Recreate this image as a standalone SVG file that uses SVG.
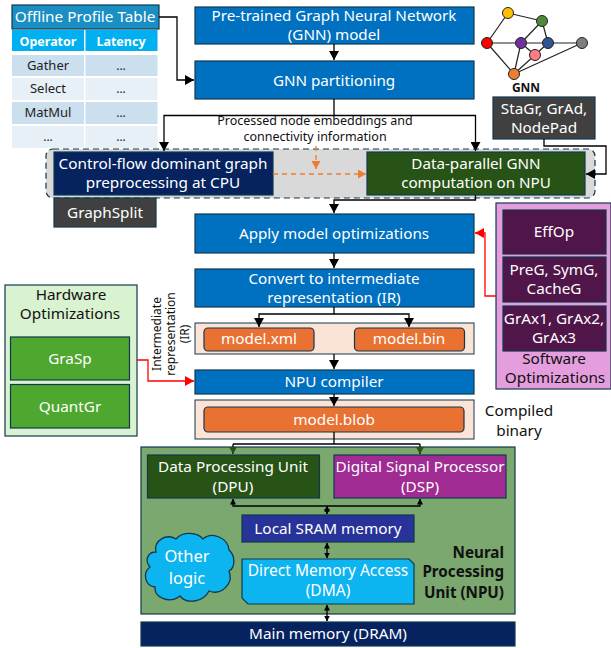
<svg xmlns="http://www.w3.org/2000/svg" width="611" height="648" viewBox="0 0 611 648">
<style>
text{font-family:"Noto Sans","Open Sans",sans-serif;text-anchor:middle}
.w{fill:#fff}.t15{font-size:15.2px}.t14{font-size:15.3px}
.k{fill:#111}
.bx{stroke:#12384f;stroke-width:1.2}
.blue{fill:#0070c0}
.org{fill:#e97132;stroke:#12384f;stroke-width:1.2}
.pch{fill:#fbe3d6;stroke:#12384f;stroke-width:1}
.pur{fill:#501549;stroke:#12384f;stroke-width:1.2}
.grn{fill:#4ea72e;stroke:#12384f;stroke-width:1.2}
.dk{fill:#404040;stroke:#12384f;stroke-width:1.2}
.c{fill:none;stroke:#000;stroke-width:1.3}
.r{fill:none;stroke:#f00;stroke-width:1.3}
.o{fill:none;stroke:#ed7d31;stroke-width:1.3;stroke-dasharray:5 4}
.e{stroke:#222;stroke-width:1.2}
.n{stroke:#222;stroke-width:1}
.end{text-anchor:end}
</style>
<defs>
<marker id="a" markerWidth="10" markerHeight="10" refX="9" refY="5" orient="auto" markerUnits="userSpaceOnUse"><path d="M0,0L9,5L0,10z" fill="#000"/></marker>
<marker id="s" markerWidth="6" markerHeight="6" refX="5.5" refY="3" orient="auto-start-reverse" markerUnits="userSpaceOnUse"><path d="M0,0L6,3L0,6z" fill="#000"/></marker>
<marker id="ar" markerWidth="10" markerHeight="10" refX="9" refY="5" orient="auto" markerUnits="userSpaceOnUse"><path d="M0,0L9,5L0,10z" fill="#f00"/></marker>
<marker id="ao" markerWidth="9" markerHeight="9" refX="8" refY="4.5" orient="auto" markerUnits="userSpaceOnUse"><path d="M0,0L8,4.5L0,9z" fill="#ed7d31"/></marker>
<marker id="ag" markerWidth="8" markerHeight="8" refX="7" refY="4" orient="auto" markerUnits="userSpaceOnUse"><path d="M0,0L7,4L0,8z" fill="#275317"/></marker>
</defs>

<g id="split-container"><rect x="46" y="149" width="549" height="49" rx="7" fill="#d9d9d9" stroke="#12384f" stroke-width="1.2" stroke-dasharray="6 4"/></g>

<g id="offline-table">
<rect x="12" y="5" width="147" height="24" fill="#1a8fc4" stroke="#12384f" stroke-width="1.2"/>
<text class="w" x="85" y="22" font-size="15.300">Offline Profile Table</text>
<rect x="12" y="30" width="72" height="21" fill="#00b0f0"/><rect x="85.500" y="30" width="72" height="21" fill="#00b0f0"/>
<text class="w" x="48" y="46" font-size="12.500" font-weight="700">Operator</text><text class="w" x="121" y="46" font-size="12.500" font-weight="700">Latency</text>
<rect x="12" y="55" width="72" height="21" fill="#ccdfee"/><rect x="85.500" y="55" width="72" height="21" fill="#ccdfee"/>
<rect x="12" y="78" width="72" height="22" fill="#e7eff7"/><rect x="85.500" y="78" width="72" height="22" fill="#e7eff7"/>
<rect x="12" y="102" width="72" height="22" fill="#ccdfee"/><rect x="85.500" y="102" width="72" height="22" fill="#ccdfee"/>
<rect x="12" y="126" width="72" height="22" fill="#e7eff7"/><rect x="85.500" y="126" width="72" height="22" fill="#e7eff7"/>
<g fill="#222" font-size="12">
<text x="48" y="70" font-size="13">Gather</text><text x="121" y="70">...</text>
<text x="48" y="93" font-size="13">Select</text><text x="121" y="93">...</text>
<text x="48" y="117" font-size="13">MatMul</text><text x="121" y="117">...</text>
<text x="48" y="141">...</text><text x="121" y="141">...</text>
</g>
</g>

<g id="pretrained"><rect class="bx blue" x="195" y="7" width="279" height="37"/><text class="w t15" x="334" y="21">Pre-trained Graph Neural Network</text><text class="w t15" x="334" y="40">(GNN) model</text></g>
<g id="partitioning"><rect class="bx blue" x="195" y="61" width="279" height="38"/><text class="w t15" x="334" y="86">GNN partitioning</text></g>
<g id="control-flow"><rect x="54" y="152" width="219" height="43" fill="#06235f" stroke="#12384f" stroke-width="1.2"/><text class="w t14" x="163" y="169">Control-flow dominant graph</text><text class="w t14" x="163" y="188">preprocessing at CPU</text></g>
<g id="data-parallel"><rect x="367" y="152" width="218" height="43" fill="#275317" stroke="#12384f" stroke-width="1.2"/><text class="w t15" x="476" y="169">Data-parallel GNN</text><text class="w t15" x="476" y="188">computation on NPU</text></g>
<g id="graphsplit"><rect class="dk" x="54" y="198" width="102" height="29"/><text class="w t14" x="105" y="218">GraphSplit</text></g>
<g id="stagr"><rect class="dk" x="493" y="97" width="102" height="42"/><text class="w t14" x="544" y="114">StaGr, GrAd,</text><text class="w t14" x="544" y="133">NodePad</text></g>

<g id="gnn-graph">
<g class="e">
<line x1="508" y1="13" x2="542" y2="21"/><line x1="508" y1="13" x2="487" y2="43"/><line x1="487" y1="43" x2="582" y2="43"/><line x1="542" y1="21" x2="521" y2="43"/><line x1="542" y1="21" x2="548" y2="43"/><line x1="487" y1="43" x2="514" y2="74"/><line x1="521" y1="43" x2="514" y2="74"/><line x1="521" y1="43" x2="535" y2="55"/><line x1="548" y1="43" x2="535" y2="55"/><line x1="535" y1="55" x2="514" y2="74"/><line x1="582" y1="43" x2="514" y2="74"/>
</g>
<g class="n">
<circle cx="508" cy="13" r="5.500" fill="#ffc000"/><circle cx="542" cy="21" r="5.500" fill="#4e8a35"/><circle cx="487" cy="43" r="5.500" fill="#f00"/><circle cx="521" cy="43" r="5.500" fill="#7030a0"/><circle cx="548" cy="43" r="5.500" fill="#2f5597"/><circle cx="582" cy="43" r="5.500" fill="#7f7f7f"/><circle cx="535" cy="55" r="5.500" fill="#ff7c80"/><circle cx="514" cy="74" r="5.500" fill="#ed7d31"/>
</g>
<text x="526" y="92" font-size="12" font-weight="700" fill="#111">GNN</text>
</g>

<g id="apply"><rect class="bx blue" x="195" y="214" width="279" height="39"/><text class="w t15" x="334" y="239">Apply model optimizations</text></g>
<g id="convert"><rect class="bx blue" x="195" y="269" width="279" height="38"/><text class="w t15" x="334" y="284">Convert to intermediate</text><text class="w t15" x="334" y="303">representation (IR)</text></g>
<g id="model-files"><rect class="pch" x="195" y="323" width="279" height="31"/>
<rect class="org" x="204" y="328" width="110" height="23" rx="4"/><text class="w t14" x="259" y="344">model.xml</text>
<rect class="org" x="354.500" y="328" width="110" height="23" rx="4"/><text class="w t14" x="409" y="344">model.bin</text></g>
<g id="npu-compiler"><rect class="bx blue" x="195" y="370" width="279" height="24"/><text class="w t14" x="334" y="387">NPU compiler</text></g>
<g id="model-blob"><rect class="pch" x="195" y="400" width="279" height="39"/><rect class="org" x="204" y="407" width="260" height="25" rx="4"/><text class="w t14" x="334" y="425">model.blob</text></g>

<g id="hardware"><rect x="5" y="285" width="132" height="151" fill="#d9f2d0" stroke="#12384f" stroke-width="1.2"/>
<text class="k t14" x="71" y="300">Hardware</text><text class="k t14" x="70" y="319">Optimizations</text>
<rect class="grn" x="10.500" y="337" width="119" height="43"/><text class="w t14" x="70" y="364">GraSp</text>
<rect class="grn" x="10.500" y="384.500" width="119" height="43.500"/><text class="w t14" x="70" y="412">QuantGr</text></g>

<g id="software"><rect x="496" y="203" width="115" height="186" fill="#e59edd" stroke="#12384f" stroke-width="1.2"/>
<rect class="pur" x="503" y="210" width="103" height="44"/><text class="w t14" x="554" y="237">EffOp</text>
<rect class="pur" x="503" y="257" width="103" height="45"/><text class="w t14" x="554" y="275">PreG, SymG,</text><text class="w t14" x="554" y="294">CacheG</text>
<rect class="pur" x="503" y="306" width="103" height="45"/><text class="w t14" x="554" y="324">GrAx1, GrAx2,</text><text class="w t14" x="554" y="343">GrAx3</text>
<text class="k t14" x="554" y="364">Software</text><text class="k t14" x="555" y="383">Optimizations</text></g>

<g id="npu"><rect x="141" y="447" width="374" height="167" fill="#7ba86f" stroke="#12384f" stroke-width="1.2"/>
<g font-size="15.200" font-weight="700" fill="#111"><text class="end" x="504" y="558">Neural</text><text class="end" x="504" y="577">Processing</text><text class="end" x="504" y="598">Unit (NPU)</text></g></g>
<g id="dpu"><rect x="147.500" y="455" width="172" height="43" fill="#275317" stroke="#12384f" stroke-width="1.2"/><text class="w t14" x="233" y="472">Data Processing Unit</text><text class="w t14" x="233" y="492">(DPU)</text></g>
<g id="dsp"><rect x="334" y="455" width="172" height="43" fill="#a02b93" stroke="#12384f" stroke-width="1.2"/><text class="w t14" x="420" y="472">Digital Signal Processor</text><text class="w t14" x="420" y="492">(DSP)</text></g>
<g id="sram"><rect x="242" y="515" width="172" height="27" fill="#28339a" stroke="#12384f" stroke-width="1.2"/><text class="w t14" x="328" y="534">Local SRAM memory</text></g>
<g id="dma"><path d="M242,559H409L414,564V604H248L242,598z" fill="#0cb4f0" stroke="#12384f" stroke-width="1.2"/><text class="w" font-size="15.500" x="328" y="576">Direct Memory Access</text><text class="w" font-size="15.500" x="328" y="596">(DMA)</text></g>
<g id="cloud"><path d="M156,552C153,541 166,533 176,539C183,531 197,532 203,539C212,531 228,538 229,550C236,556 235,568 229,571C234,583 222,596 209,591C203,603 186,604 180,596C170,604 154,598 155,587C145,586 142,573 150,567C144,560 148,552 156,552z" fill="#0cb4f0" stroke="#12384f" stroke-width="1.3"/><text class="w" x="187" y="562" font-size="16.500">Other</text><text class="w" x="187" y="584" font-size="16.500">logic</text></g>
<g id="dram"><rect x="141" y="622" width="374" height="24" fill="#06235f" stroke="#12384f" stroke-width="1.2"/><text class="w t14" x="328" y="639">Main memory (DRAM)</text></g>

<g id="labels">
<text class="k" x="315" y="125" font-size="12.500">Processed node embeddings and</text><text class="k" x="315" y="141" font-size="12.500">connectivity information</text>
<text class="k t14" x="519" y="416">Compiled</text><text class="k t14" x="519" y="436">binary</text>
<g class="k" font-size="12"><text transform="translate(161,334) rotate(-90)">Intermediate</text><text transform="translate(175,334) rotate(-90)">representation</text><text transform="translate(189,334) rotate(-90)">(IR)</text></g>
</g>

<g id="connectors">
<path class="c" d="M159,17H177V80H194" marker-end="url(#a)"/>
<path class="c" d="M334,44V60" marker-end="url(#a)"/>
<path class="c" d="M334,99V115.500H164V151" marker-end="url(#a)"/>
<path class="c" d="M334,115.500H475.500V151" marker-end="url(#a)"/>
<path class="c" d="M544,139V146H606V174H586" marker-end="url(#a)"/>
<path class="c" d="M475.500,195V200H334V213" marker-end="url(#a)"/>
<path class="c" d="M334,253V268" marker-end="url(#a)"/>
<path class="c" d="M334,307V314H259V327" marker-end="url(#a)"/>
<path class="c" d="M334,314H409V327" marker-end="url(#a)"/>
<path class="c" d="M334,354V369" marker-end="url(#a)"/>
<path class="c" d="M334,394V406" marker-end="url(#a)"/>
<path class="c" d="M334,432V444M233,444H420"/>
<path class="c" d="M233,444V454" marker-end="url(#ag)"/>
<path class="c" d="M420,444V454" marker-end="url(#ag)"/>
<path class="c" d="M233,499V506H420V499" marker-start="url(#s)" marker-end="url(#s)"/>
<path class="c" d="M327,506V514" marker-start="url(#s)" marker-end="url(#s)"/>
<path class="c" d="M327,543V558" marker-start="url(#s)" marker-end="url(#s)"/>
<path class="c" d="M327,605V621" marker-start="url(#s)" marker-end="url(#s)"/>
<path class="o" d="M316,146V169" marker-end="url(#ao)"/>
<path class="o" d="M273,174H366" marker-end="url(#ao)"/>
<path class="r" d="M137,360H148V381H194" marker-end="url(#ar)"/>
<path class="r" d="M496,296H485V233H475" marker-end="url(#ar)"/>
</g>
</svg>
